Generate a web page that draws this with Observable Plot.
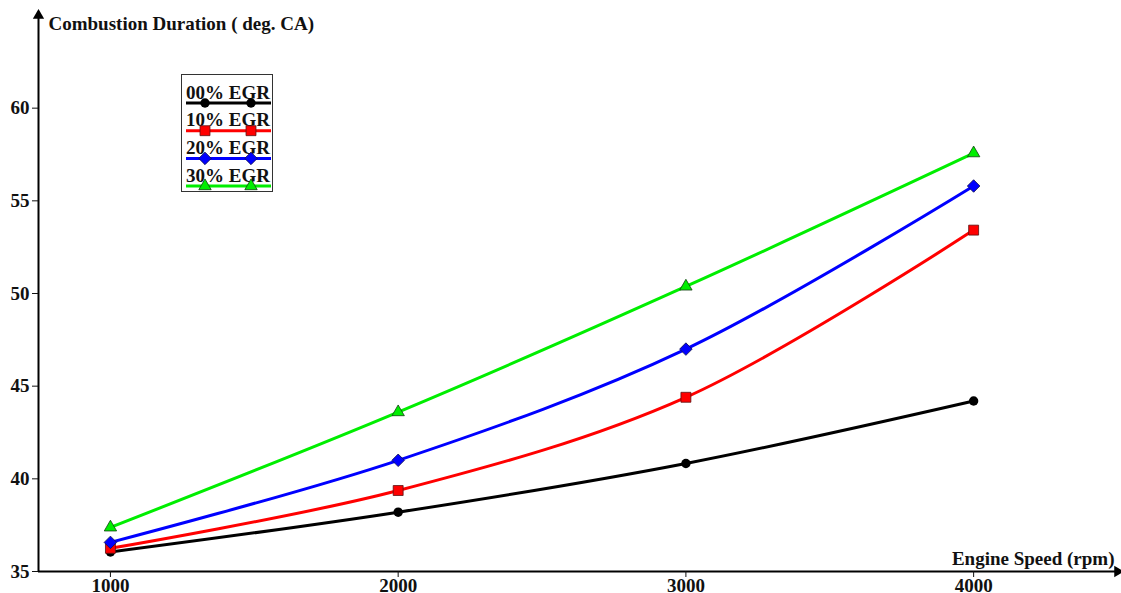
<!DOCTYPE html>
<html><head><meta charset="utf-8">
<script src="https://cdn.jsdelivr.net/npm/d3@7"></script>
<script src="https://cdn.jsdelivr.net/npm/@observablehq/plot@0.6"></script>
<style>
body{margin:0;background:#fff;}
#wrap{position:relative;width:1121px;height:593px;}
#wrap svg, #wrap svg text{font-family:"Liberation Serif","Times New Roman",serif !important;}
#legend{position:absolute;left:181px;top:74px;width:92px;height:118px;border:1px solid #333;background:#fff;box-sizing:border-box;}
</style></head><body><div id="wrap"><div id="legend"></div></div>
<script>
const speeds = [1000, 2000, 3000, 4000];
const seriesNames = ["00% EGR", "10% EGR", "20% EGR", "30% EGR"];
const egr00 = [36.05, 38.2, 40.83, 44.2];
const egr10 = [36.25, 39.37, 44.4, 53.42];
const egr20 = [36.57, 41.0, 47.0, 55.8];
const egr30 = [37.38, 43.6, 50.38, 57.57];
const colors = ["#000000", "#ff0000", "#0000ff", "#00ee00"];
const xTicks = [1000, 2000, 3000, 4000];
const yTicks = [35, 40, 45, 50, 55, 60];
const yTitle = "Combustion Duration ( deg. CA)";
const xTitle = "Engine Speed (rpm)";

const allValues = [egr00, egr10, egr20, egr30];
const data = [];
seriesNames.forEach((s, i) => speeds.forEach((x, j) => data.push({series: s, speed: x, value: allValues[i][j]})));

const markerStyles = [
  {symbol: "circle", r: 4.7, fill: "#000", stroke: "none", rotate: 0},
  {symbol: "square", r: 5.6, fill: "#ff0000", stroke: "#5a1010", rotate: 0},
  {symbol: "square", r: 5.0, fill: "#0000ff", stroke: "#101050", rotate: 45},
  {symbol: "triangle", r: 4.6, fill: "#00ee00", stroke: "#104010", rotate: 0}
];

const font = "Liberation Serif, Times New Roman, serif";

const marks = [
  Plot.ruleY([35], {stroke: "#000", strokeWidth: 2}),
  Plot.ruleX([750], {stroke: "#000", strokeWidth: 2}),
  Plot.dot([{x: 4500, y: 35}], {x: "x", y: "y", symbol: "triangle", r: 4.2, fill: "#000", rotate: 90}),
  Plot.dot([{x: 750, y: 65}], {x: "x", y: "y", symbol: "triangle", r: 4.2, fill: "#000"}),
  Plot.axisX({ticks: xTicks, tickSize: 6, tickPadding: 1, tickFormat: d => String(d), fontSize: 19, fontWeight: "bold", fontFamily: font, label: null}),
  Plot.axisY({ticks: yTicks, tickSize: 6, tickPadding: 3, fontSize: 19, fontWeight: "bold", fontFamily: font, label: null}),
  Plot.text([yTitle], {frameAnchor: "top-left", dx: 10, dy: 1, textAnchor: "start", fontSize: 19, fontWeight: "bold", fontFamily: font, fill: "#111"}),
  Plot.text([xTitle], {frameAnchor: "bottom-right", dx: -3, dy: -7, textAnchor: "end", lineAnchor: "bottom", fontSize: 19, fontWeight: "bold", fontFamily: font, fill: "#111"}),
  Plot.line(data, {x: "speed", y: "value", z: "series", stroke: "series", strokeWidth: 3, curve: "catmull-rom"})
];
seriesNames.forEach((s, i) => {
  const m = markerStyles[i];
  marks.push(Plot.dot(data.filter(d => d.series === s), {x: "speed", y: "value", symbol: m.symbol, r: m.r, fill: m.fill, stroke: m.stroke, strokeWidth: 0.8, rotate: m.rotate}));
});

const chart = Plot.plot({
  width: 1121,
  height: 593,
  marginLeft: 38,
  marginRight: 4,
  marginTop: 15,
  marginBottom: 22,
  x: {domain: [750, 4500]},
  y: {domain: [35, 65]},
  color: {domain: seriesNames, range: colors},
  style: {fontFamily: font, color: "#111", background: "#fff", overflow: "visible"},
  marks
});
document.getElementById("wrap").prepend(chart);

// Legend
const lg = d3.select("#legend").append("svg").attr("width", 90).attr("height", 116).style("display", "block");
seriesNames.forEach((s, i) => {
  const lineY = 28 + i * 27.7;
  const m = markerStyles[i];
  lg.append("text").attr("x", 4).attr("y", lineY - 4.5).text(s)
    .attr("font-family", font).attr("font-weight", "bold").attr("font-size", 19).attr("fill", "#111")
    .attr("textLength", 84).attr("lengthAdjust", "spacingAndGlyphs");
  lg.append("line").attr("x1", 4).attr("x2", 89).attr("y1", lineY).attr("y2", lineY)
    .attr("stroke", colors[i]).attr("stroke-width", 3);
  [23, 69].forEach(x => {
    const sym = m.symbol === "circle" ? d3.symbolCircle : m.symbol === "square" ? d3.symbolSquare : d3.symbolTriangle;
    lg.append("path").attr("d", d3.symbol(sym, m.r * m.r * Math.PI)())
      .attr("transform", `translate(${x},${lineY}) rotate(${m.rotate})`)
      .attr("fill", m.fill).attr("stroke", m.stroke).attr("stroke-width", 0.8);
  });
});
</script>
</body></html>
